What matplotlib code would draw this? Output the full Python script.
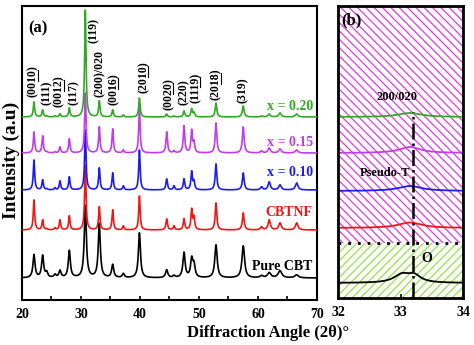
import numpy as np
import matplotlib
matplotlib.use('Agg')
import matplotlib.pyplot as plt
from matplotlib.lines import Line2D
from matplotlib.transforms import IdentityTransform

plt.rcParams['font.family'] = ['Liberation Serif', 'DejaVu Serif']
plt.rcParams['font.weight'] = 'bold'
plt.rcParams['hatch.linewidth'] = 0.9

# ---------------- data (panel a) ----------------
peak_pos = [22.03, 23.50, 24.18, 25.6, 26.44, 28.02, 30.73, 33.10, 35.37, 37.18, 39.90,
            44.52, 45.76, 47.46, 48.76, 49.15, 52.88, 57.50, 60.60, 61.90, 63.73, 66.55]
h_green = [15, 7, 1, 1, 3, 9, 107, 16, 7, 2, 19, 3, 1, 6, 8, 4, 14, 11, 1, 3, 4, 3]
h_mag = [21, 17, 1, 1, 6, 14, 60, 26, 24, 3, 45, 21, 2, 27, 22, 10, 30, 26, 2, 5, 4, 3]
h_blue = [30, 10, 1, 2, 9, 13, 60, 22, 17, 4, 40, 11, 4, 11, 18, 8, 26, 17, 3, 8, 5, 7]
h_red = [30, 10, 1, 2, 10, 14, 65, 23, 20, 4, 34, 11, 4, 11, 20, 12, 27, 17, 3, 10, 7, 7]
h_black = [23, 22, 5, 3, 7, 27, 72, 54, 13, 4, 45, 8, 2, 25, 18, 12, 33, 32, 2, 5, 7, 3]
widths = [0.28, 0.28, 0.28, 0.28, 0.28, 0.28, 0.28, 0.28, 0.28, 0.28, 0.28,
          0.3, 0.3, 0.3, 0.3, 0.3, 0.32, 0.35, 0.4, 0.45, 0.5, 0.5]
black_width_scale = 1.5

series_names = ['x = 0.20', 'x = 0.15', 'x = 0.10', 'CBTNF', 'Pure CBT']
series_colors = ['#2FAA22', '#C23CEB', '#1C1CF2', '#F21515', '#000000']
series_heights = [h_green, h_mag, h_blue, h_red, h_black]
series_base = [183, 147, 110, 70, 22]
label_y = [193, 158, 127, 88, 33]

# (prefix, underlined part, suffix)
hkl_parts = [('(00', '10', ')'), ('(111)', '', ''), ('(00', '12', ')'), ('(117)', '', ''),
             ('(119)', '', ''), ('(200)/020', '', ''), ('(00', '16', ')'), ('(20', '10', ')'),
             ('(00', '20', ')'), ('(220)', '', ''), ('(11', '19', ')'), ('(20', '18', ')'),
             ('(319)', '', '')]
hkl_x = [21.9, 24.2, 26.3, 28.8, 32.25, 33.2, 35.5, 40.6, 44.8, 47.4, 49.4, 52.9, 57.5]
hkl_y = [203, 195, 193, 195, 257, 203, 195, 207, 190, 195, 197, 200, 197]

# ---------------- data (panel b) ----------------
b_base = [183, 147, 109, 72, 17]
b_centers = [[33.15], [33.15], [33.15], [33.15], [33.02, 33.22]]
b_heights = [[4.0], [6.0], [5.0], [5.5], [8.0, 7.0]]
b_widths = [[0.45], [0.4], [0.45], [0.45], [0.3, 0.25]]
b_split = 57.3
b_vline = 33.2


def lorentz_sum(x, centers, heights, ws):
    y = np.zeros_like(x)
    for c, h, w in zip(centers, heights, ws):
        y += h / (1.0 + ((x - c) / (w / 2.0)) ** 2)
    return y


W, H = 474, 345
fig = plt.figure(figsize=(W / 100, H / 100), dpi=100)

axa = fig.add_axes([22 / W, 1 - 300 / H, (317 - 22) / W, (300 - 6) / H])
x = np.linspace(20, 70, 3000)
for i in range(4, -1, -1):
    ws = widths if i < 4 else [w * black_width_scale for w in widths]
    y = series_base[i] + lorentz_sum(x, peak_pos, series_heights[i], ws)
    axa.plot(x, y, color=series_colors[i], lw=1.2, zorder=2 + (4 - i))
    axa.text(69.3, label_y[i], series_names[i], color=series_colors[i], fontsize=10,
             fontweight='bold', ha='right', va='center', zorder=10)

hkl_texts = []
for parts, lx, ly in zip(hkl_parts, hkl_x, hkl_y):
    t = axa.text(lx, ly, ''.join(parts), rotation=90, fontsize=8.5, fontweight='bold',
                 ha='center', va='bottom', zorder=10)
    hkl_texts.append((t, parts))

axa.set_xlim(20, 70)
axa.set_ylim(0, 294)
axa.set_yticks([])
axa.set_xticks([20, 30, 40, 50, 60, 70])
axa.set_xticks([25, 35, 45, 55, 65], minor=True)
axa.tick_params(axis='x', which='both', direction='in', length=3, width=1.2, labelsize=10, pad=6)
for lab in axa.get_xticklabels():
    lab.set_fontweight('bold')
for s in axa.spines.values():
    s.set_linewidth(1.5)
axa.text(21.0, 280, '(a)', fontsize=12, fontweight='bold', va='top', ha='left')

# ---------------- panel b ----------------
axb = fig.add_axes([338 / W, 1 - 298 / H, (463 - 338) / W, (298 - 6) / H])
axb.set_xlim(32, 34)
axb.set_ylim(2, 294)
axb.axhspan(b_split, 294, facecolor='white', edgecolor='#E03AE0', hatch='\\\\\\\\', lw=0, zorder=0)
axb.axhspan(2, b_split, facecolor='white', edgecolor='#98E048', hatch='////', lw=0, zorder=0)
xb = np.linspace(32, 34, 600)
for i in range(5):
    yb = b_base[i] + lorentz_sum(xb, b_centers[i], b_heights[i], b_widths[i])
    axb.plot(xb, yb, color=series_colors[i], lw=1.3, zorder=3)
axb.axhline(b_split, color='black', lw=2, ls=(0, (1, 2.5)), zorder=4)
axb.plot([b_vline, b_vline], [2, 188], color='black', lw=1.8, ls='-.', zorder=4)
axb.text(32.95, 203, '200/020', fontsize=9, fontweight='bold', ha='center', va='center', zorder=5)
axb.text(32.75, 127, 'Pseudo-T', fontsize=9, fontweight='bold', ha='center', va='center', zorder=5)
axb.text(33.42, 41, 'O', fontsize=10, fontweight='bold', ha='center', va='center', zorder=5)
axb.text(32.05, 288, '(b)', fontsize=12, fontweight='bold', va='top', ha='left', zorder=5)
axb.set_yticks([])
axb.set_xticks([32, 33, 34])
axb.tick_params(axis='x', direction='in', length=3, width=1.2, labelsize=10, pad=6)
for lab in axb.get_xticklabels():
    lab.set_fontweight('bold')
for s in axb.spines.values():
    s.set_linewidth(2)
    s.set_zorder(6)

fig.text(268 / W, 1 - 333 / H, 'Diffraction Angle (2\u03b8)\u00b0', fontsize=12, fontweight='bold',
         ha='center', va='center')
fig.text(11 / W, 1 - 160 / H, 'Intensity (a.u)', fontsize=14, fontweight='bold', rotation=90,
         ha='center', va='center')

# underlines for two-digit Miller indices (rotated text -> vertical lines)
fig.canvas.draw()
renderer = fig.canvas.get_renderer()
for t, (pre, ul, suf) in hkl_texts:
    if not ul:
        continue
    prop = t.get_fontproperties()
    bb = t.get_window_extent(renderer)
    w_pre, _, _ = renderer.get_text_width_height_descent(pre, prop, ismath=False)
    w_ul, _, _ = renderer.get_text_width_height_descent(pre + ul, prop, ismath=False)
    _, _, desc = renderer.get_text_width_height_descent(''.join((pre, ul, suf)), prop, ismath=False)
    xline = bb.x1 - desc + 1.3
    fig.add_artist(Line2D([xline, xline], [bb.y0 + w_pre + 0.5, bb.y0 + w_ul - 0.5],
                          transform=IdentityTransform(), color='black', lw=0.8, zorder=11))

fig.savefig('out.png', dpi=100)
